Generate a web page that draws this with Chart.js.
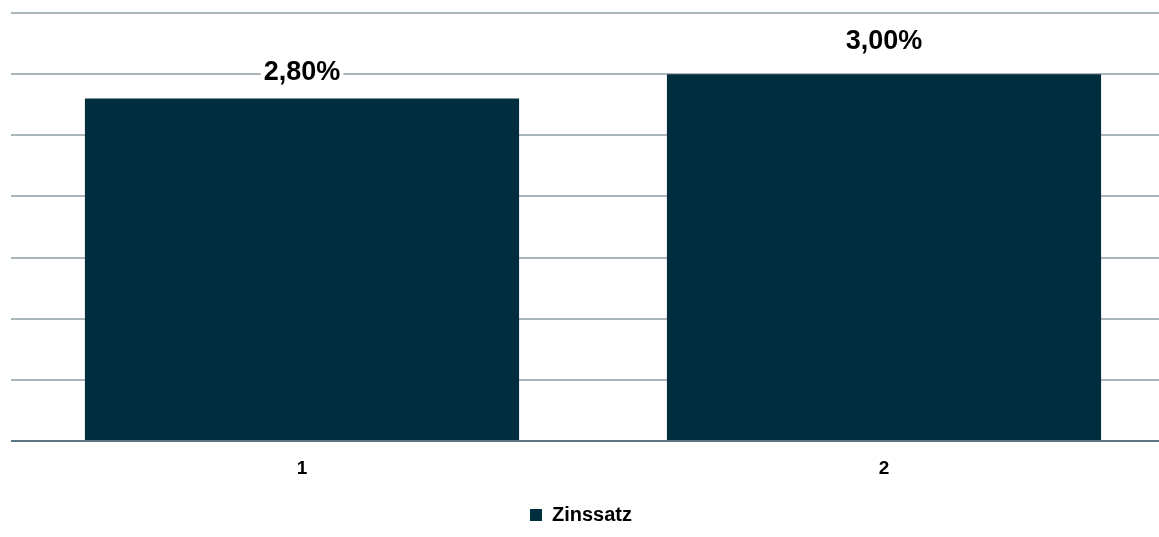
<!DOCTYPE html>
<html>
<head>
<meta charset="utf-8">
<script src="https://cdn.jsdelivr.net/npm/chart.js@4/dist/chart.umd.min.js"></script>
<style>
  html, body { margin: 0; padding: 0; background: #fff; overflow: hidden; }
  #wrap { width: 1175px; height: 537px; position: relative; }
</style>
</head>
<body>
<div id="wrap"><canvas id="chart"></canvas></div>
<script>
// data
var categories = ['1', '2'];
var zinssatz = [2.80, 3.00];
var seriesName = 'Zinssatz';

var barColor = '#012e3e';

// value labels above the bars, "2,80%" style
var valueLabels = {
    id: 'valueLabels',
    afterDatasetsDraw: function (chart) {
        var ctx = chart.ctx;
        var meta = chart.getDatasetMeta(0);
        ctx.save();
        ctx.font = 'bold 27px "Liberation Sans", Arial, sans-serif';
        ctx.textAlign = 'center';
        ctx.textBaseline = 'middle';
        meta.data.forEach(function (bar, i) {
            var txt = zinssatz[i].toFixed(2).replace('.', ',') + '%';
            var w = ctx.measureText(txt).width;
            var ty = bar.y - (i === 0 ? 26 : 33);
            // white box so the gridline is interrupted behind the text
            ctx.fillStyle = '#fff';
            ctx.fillRect(bar.x - w / 2 - 3, ty - 12, w + 6, 24);
            ctx.fillStyle = '#000';
            ctx.fillText(txt, bar.x, ty);
        });
        ctx.restore();
    }
};

new Chart(document.getElementById('chart'), {
    type: 'bar',
    data: {
        labels: categories,
        datasets: [{
            label: seriesName,
            data: zinssatz,
            backgroundColor: barColor,
            borderWidth: 0,
            barPercentage: 0.746,
            categoryPercentage: 1.0
        }]
    },
    options: {
        responsive: true,
        maintainAspectRatio: false,
        animation: false,
        layout: { padding: { left: 11, right: 0, top: 13, bottom: 2 } },
        plugins: {
            tooltip: { enabled: false },
            legend: {
                position: 'bottom',
                align: 'center',
                labels: {
                    color: '#000',
                    font: { family: '"Liberation Sans", Arial, sans-serif', size: 20, weight: 'bold' },
                    boxWidth: 12,
                    boxHeight: 12,
                    padding: 10
                }
            }
        },
        scales: {
            x: {
                grid: { display: false },
                border: { display: false },
                ticks: {
                    color: '#000',
                    font: { family: '"Liberation Sans", Arial, sans-serif', size: 19, weight: 'bold' },
                    padding: 8
                },
                afterFit: function (scale) { scale.height = 54; }
            },
            y: {
                min: 0,
                max: 3.5,
                ticks: { display: false, stepSize: 0.5 },
                border: { display: false },
                grid: {
                    drawTicks: false,
                    color: function (c) { return c.tick.value === 0 ? '#5c7882' : '#aab6b9'; },
                    lineWidth: 2
                },
                afterFit: function (scale) { scale.width = 0; }
            }
        }
    },
    plugins: [valueLabels, {
        id: 'legendCenter',
        afterLayout: function (chart) {
            // centre the legend on the visible window, not the wider canvas
            chart.legend.left = 0;
            chart.legend.right = 1162;
        }
    }]
});
</script>
</body>
</html>
